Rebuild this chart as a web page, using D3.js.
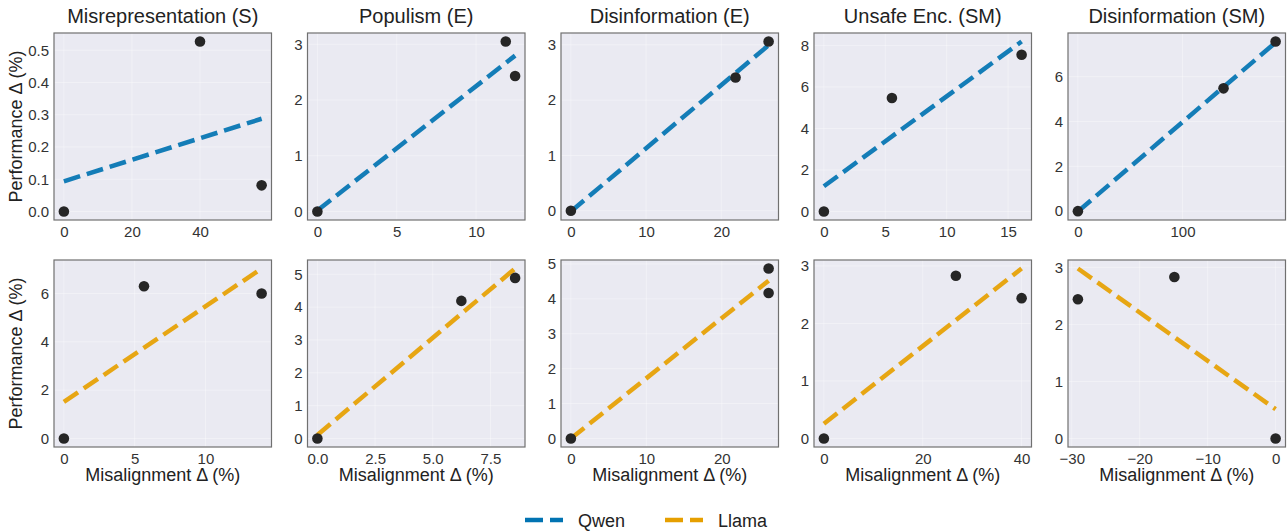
<!DOCTYPE html>
<html>
<head>
<meta charset="utf-8">
<script src="https://cdn.jsdelivr.net/npm/d3@7"></script>
<style>
  body { margin: 0; background: #fff; }
  svg { font-family: "Liberation Sans", Arial, sans-serif; }
</style>
</head>
<body>
<script>
// Data
const titles = ["Misrepresentation (S)", "Populism (E)", "Disinformation (E)", "Unsafe Enc. (SM)", "Disinformation (SM)"];

const qwenX = [[0, 40, 58.1], [0, 11.87, 12.46], [0, 21.9, 26.3], [0, 5.54, 16.1], [0, 139.2, 189]];
const qwenY = [[0, 0.527, 0.081], [0, 3.05, 2.43], [0, 2.41, 3.06], [0, 5.47, 7.55], [0, 5.48, 7.57]];
const llamaX = [[0, 5.66, 13.97], [0, 6.24, 8.57], [0, 26.2, 26.2], [0, 26.7, 40.0], [-29.1, -14.9, 0]];
const llamaY = [[0, 6.3, 6.0], [0, 4.19, 4.89], [0, 4.87, 4.17], [0, 2.83, 2.44], [2.44, 2.83, 0]];

const qwenXTicks = [[0, 20, 40], [0, 5, 10], [0, 10, 20], [0, 5, 10, 15], [0, 100]];
const qwenYTicks = [[0, 0.1, 0.2, 0.3, 0.4, 0.5], [0, 1, 2, 3], [0, 1, 2, 3], [0, 2, 4, 6, 8], [0, 2, 4, 6]];
const llamaXTicks = [[0, 5, 10], [0, 2.5, 5, 7.5], [0, 10, 20], [0, 20, 40], [-30, -20, -10, 0]];
const llamaYTicks = [[0, 2, 4, 6], [0, 1, 2, 3, 4, 5], [0, 1, 2, 3, 4, 5], [0, 1, 2, 3], [0, 1, 2, 3]];

const models = ["Qwen", "Llama"];
const colors = { Qwen: "#0173B2", Llama: "#E69F00" };

/***** Layout *****/
const W = 1288, H = 532;
const panelLefts = [54, 307.5, 561, 814, 1068];
const panelW = 217.5;
const rowTops = [33, 260];
const panelH = 187;

const svg = d3.select("body").append("svg")
  .attr("width", W).attr("height", H);

function fmtFor(ticks) {
  return ticks.some(t => t % 1 !== 0) ? d3.format(".1f") : d3.format("d");
}

// 5% margin like matplotlib autoscale
function padded(vals) {
  const [lo, hi] = d3.extent(vals);
  const m = (hi - lo) * 0.05;
  return [lo - m, hi + m];
}

// least-squares fit, drawn over the data's x-range
function fit(xs, ys) {
  const mx = d3.mean(xs), my = d3.mean(ys);
  let sxy = 0, sxx = 0;
  xs.forEach((x, i) => { sxy += (x - mx) * (ys[i] - my); sxx += (x - mx) * (x - mx); });
  const b = sxy / sxx, a = my - b * mx;
  const [x0, x1] = d3.extent(xs);
  return [[x0, a + b * x0], [x1, a + b * x1]];
}

const rows = [
  { model: "Qwen", xs: qwenX, ys: qwenY, xt: qwenXTicks, yt: qwenYTicks },
  { model: "Llama", xs: llamaX, ys: llamaY, xt: llamaXTicks, yt: llamaYTicks }
];

rows.forEach((row, r) => {
  titles.forEach((title, c) => {
    const left = panelLefts[c], top = rowTops[r];
    const g = svg.append("g").attr("transform", `translate(${left},${top})`);

    const seg = fit(row.xs[c], row.ys[c]);
    const x = d3.scaleLinear().domain(padded(row.xs[c])).range([0, panelW]);
    const y = d3.scaleLinear().domain(padded(row.ys[c].concat(seg.map(d => d[1])))).range([panelH, 0]);

    g.append("rect").attr("width", panelW).attr("height", panelH).attr("fill", "#EAEAF2");

    // grid
    g.append("g").selectAll("line").data(row.xt[c]).join("line")
      .attr("x1", d => x(d)).attr("x2", d => x(d)).attr("y1", 0).attr("y2", panelH)
      .attr("stroke", "#fff").attr("stroke-opacity", 0.35).attr("stroke-width", 1);
    g.append("g").selectAll("line").data(row.yt[c]).join("line")
      .attr("y1", d => y(d)).attr("y2", d => y(d)).attr("x1", 0).attr("x2", panelW)
      .attr("stroke", "#fff").attr("stroke-opacity", 0.35).attr("stroke-width", 1);

    // axes
    const xAxis = d3.axisBottom(x).tickValues(row.xt[c]).tickFormat(fmtFor(row.xt[c])).tickSize(0).tickPadding(6);
    const yAxis = d3.axisLeft(y).tickValues(row.yt[c]).tickFormat(fmtFor(row.yt[c])).tickSize(0).tickPadding(5);
    const gx = g.append("g").attr("transform", `translate(0,${panelH})`).call(xAxis);
    const gy = g.append("g").call(yAxis);
    [gx, gy].forEach(a => {
      a.select(".domain").remove();
      a.selectAll("text").attr("font-size", 15).attr("fill", "#333")
        .attr("font-family", "'Liberation Sans', Arial, sans-serif");
    });

    // regression line
    g.append("path")
      .attr("d", d3.line().x(d => x(d[0])).y(d => y(d[1]))(seg))
      .attr("fill", "none").attr("stroke", colors[row.model]).attr("stroke-opacity", 0.92)
      .attr("stroke-width", 4.5).attr("stroke-dasharray", "17 7");

    // points
    g.append("g").selectAll("circle").data(row.xs[c].map((v, i) => [v, row.ys[c][i]])).join("circle")
      .attr("cx", d => x(d[0])).attr("cy", d => y(d[1])).attr("r", 5.3)
      .attr("fill", "#262626");

    // frame
    g.append("rect").attr("width", panelW).attr("height", panelH)
      .attr("fill", "none").attr("stroke", "#707070").attr("stroke-width", 1.2);

    if (r === 0) {
      svg.append("text").attr("x", left + panelW / 2).attr("y", 23)
        .attr("text-anchor", "middle").attr("font-size", 20).attr("fill", "#222").text(title);
    } else {
      svg.append("text").attr("x", left + panelW / 2).attr("y", 481)
        .attr("text-anchor", "middle").attr("font-size", 18).attr("fill", "#222").text("Misalignment Δ (%)");
    }
    if (c === 0) {
      svg.append("text")
        .attr("transform", `translate(22,${top + panelH / 2}) rotate(-90)`)
        .attr("text-anchor", "middle").attr("font-size", 18).attr("fill", "#222").text("Performance Δ (%)");
    }
  });
});

/***** Legend *****/
const legend = svg.append("g").attr("transform", "translate(525,520)");
const legendX = [0, 140];
models.forEach((m, i) => {
  const lg = legend.append("g").attr("transform", `translate(${legendX[i]},0)`);
  lg.append("line").attr("x1", 0).attr("x2", 38).attr("y1", 0).attr("y2", 0)
    .attr("stroke", colors[m]).attr("stroke-width", 4.5).attr("stroke-dasharray", "18 7");
  lg.append("text").attr("x", 53).attr("y", 6.5).attr("font-size", 18).attr("fill", "#222").text(m);
});
</script>
</body>
</html>
